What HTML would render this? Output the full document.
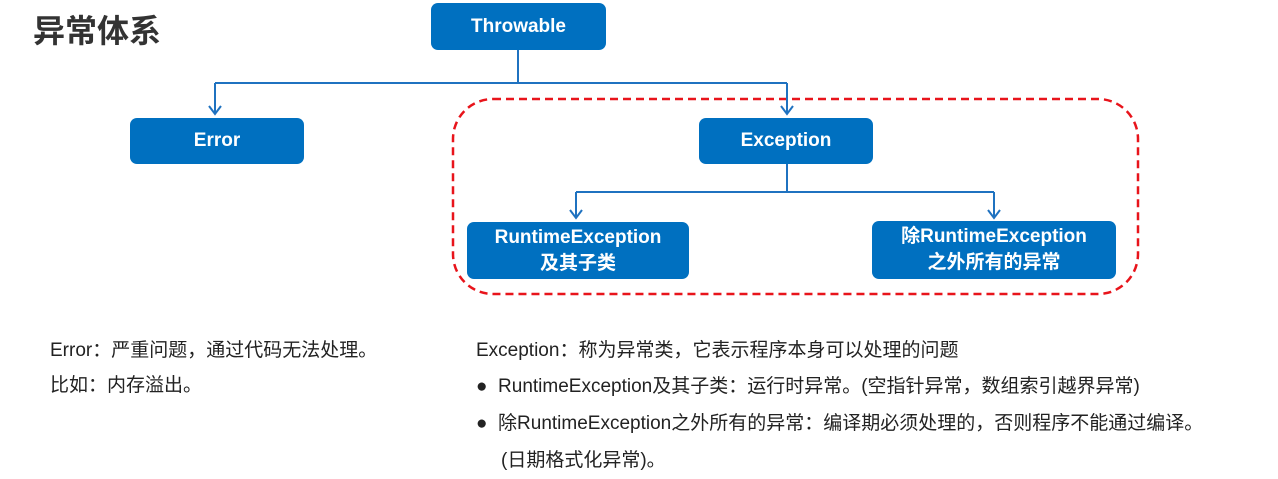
<!DOCTYPE html>
<html><head><meta charset="utf-8"><style>
body{margin:0;width:1278px;height:479px;background:#fff;position:relative;overflow:hidden;font-family:"Liberation Sans","Noto Sans CJK SC",sans-serif;}
.b{position:absolute;background:#0070c0;color:#fff;border-radius:7px;font-weight:bold;font-size:19px;display:flex;align-items:center;justify-content:center;text-align:center;line-height:26px}
.t{position:absolute;font-size:19px;color:#222;white-space:nowrap}
</style></head><body>
<div class="t" style="left:33px;top:6px;font-size:32px;font-weight:bold;color:#333">异常体系</div>
<svg style="position:absolute;left:0;top:0" width="1278" height="479">
<rect x="453" y="99" width="685" height="195" rx="40" fill="none" stroke="#e8141b" stroke-width="2.5" stroke-dasharray="8,5"/>
<g fill="none" stroke="#1f72c0" stroke-width="2">
<path d="M518 50V83M215 83H787M215 83V114M787 83V114M787 164V192M576 192H994M576 192V218M994 192V218"/>
<path d="M209 106L215 114L221 106M781 106L787 114L793 106M570 210L576 218L582 210M988 210L994 218L1000 210"/>
</g></svg>
<div class="b" style="left:431px;top:3px;width:175px;height:47px">Throwable</div>
<div class="b" style="left:130px;top:118px;width:174px;height:46px">Error</div>
<div class="b" style="left:699px;top:118px;width:174px;height:46px">Exception</div>
<div class="b" style="left:467px;top:222px;width:222px;height:57px">RuntimeException<br>及其子类</div>
<div class="b" style="left:872px;top:221px;width:244px;height:58px">除RuntimeException<br>之外所有的异常</div>
<div class="t" style="left:50px;top:335px">Error：严重问题，通过代码无法处理。</div>
<div class="t" style="left:50px;top:370px">比如：内存溢出。</div>
<div class="t" style="left:476px;top:335px">Exception：称为异常类，它表示程序本身可以处理的问题</div>
<div class="t" style="left:476px;top:371px">●&nbsp; RuntimeException及其子类：运行时异常。(空指针异常，数组索引越界异常)</div>
<div class="t" style="left:476px;top:408px">●&nbsp; 除RuntimeException之外所有的异常：编译期必须处理的，否则程序不能通过编译。</div>
<div class="t" style="left:501px;top:445px">(日期格式化异常)。</div>
</body></html>
